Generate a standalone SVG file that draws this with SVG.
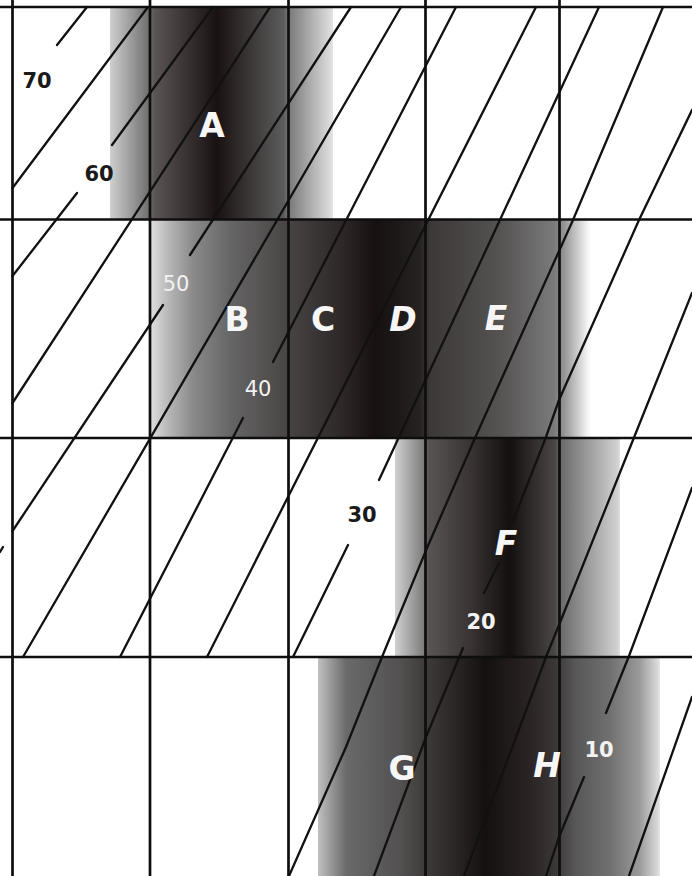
<svg xmlns="http://www.w3.org/2000/svg" width="692" height="876" viewBox="0 0 692 876">
<defs>
<linearGradient id="gA" gradientUnits="userSpaceOnUse" x1="110" y1="0" x2="333" y2="0">
<stop offset="0" stop-color="#cfcfcf"/>
<stop offset="0.18" stop-color="#6c6c6c"/>
<stop offset="0.2" stop-color="#5a5454"/>
<stop offset="0.48" stop-color="#1a1212"/>
<stop offset="0.78" stop-color="#5c5c5c"/>
<stop offset="0.8" stop-color="#787878"/>
<stop offset="0.98" stop-color="#d8d8d8"/>
<stop offset="1" stop-color="#e4e4e4"/>
</linearGradient>
<linearGradient id="gB" gradientUnits="userSpaceOnUse" x1="150" y1="0" x2="592" y2="0">
<stop offset="0" stop-color="#e0e0e0"/>
<stop offset="0.045" stop-color="#b4b4b4"/>
<stop offset="0.10" stop-color="#888888"/>
<stop offset="0.18" stop-color="#666666"/>
<stop offset="0.305" stop-color="#4a4646"/>
<stop offset="0.44" stop-color="#2c2626"/>
<stop offset="0.51" stop-color="#161010"/>
<stop offset="0.61" stop-color="#262222"/>
<stop offset="0.633" stop-color="#3c3838"/>
<stop offset="0.79" stop-color="#555252"/>
<stop offset="0.914" stop-color="#7a7a7a"/>
<stop offset="0.937" stop-color="#959595"/>
<stop offset="0.99" stop-color="#f4f4f4"/>
<stop offset="1" stop-color="#ffffff"/>
</linearGradient>
<linearGradient id="gF" gradientUnits="userSpaceOnUse" x1="395" y1="0" x2="620" y2="0">
<stop offset="0" stop-color="#d0d0d0"/>
<stop offset="0.13" stop-color="#7c7c7c"/>
<stop offset="0.147" stop-color="#5a5555"/>
<stop offset="0.33" stop-color="#3a3434"/>
<stop offset="0.51" stop-color="#141010"/>
<stop offset="0.71" stop-color="#4a4646"/>
<stop offset="0.74" stop-color="#6c6c6c"/>
<stop offset="0.987" stop-color="#d0d0d0"/>
<stop offset="1" stop-color="#e0e0e0"/>
</linearGradient>
<linearGradient id="gG" gradientUnits="userSpaceOnUse" x1="318" y1="0" x2="660" y2="0">
<stop offset="0" stop-color="#c0c0c0"/>
<stop offset="0.082" stop-color="#6a6a6a"/>
<stop offset="0.24" stop-color="#525050"/>
<stop offset="0.31" stop-color="#403c3c"/>
<stop offset="0.49" stop-color="#151010"/>
<stop offset="0.62" stop-color="#2a2424"/>
<stop offset="0.693" stop-color="#3a3636"/>
<stop offset="0.75" stop-color="#565656"/>
<stop offset="0.854" stop-color="#707070"/>
<stop offset="0.94" stop-color="#9a9a9a"/>
<stop offset="0.994" stop-color="#dadada"/>
<stop offset="1" stop-color="#e8e8e8"/>
</linearGradient>
</defs>
<style>
.grid{stroke:#0e0e0e;stroke-width:2.7;fill:none}
.iso{stroke:#111111;stroke-width:2.3;fill:none;stroke-linecap:round}
.num{font-family:"DejaVu Sans","Liberation Sans",sans-serif;font-size:21px;text-anchor:middle}
.dark{fill:#1a1a1a;font-weight:bold}
.lite{fill:#f2f2f2}
.b{font-weight:bold}
.let{font-family:"DejaVu Sans","Liberation Sans",sans-serif;font-size:33px;font-weight:bold;fill:#f6f6f6;text-anchor:middle}
.it{font-style:italic}
</style>
<rect x="0" y="0" width="692" height="876" fill="#ffffff"/>
<g id="bands">
<rect id="band-A" x="110" y="7" width="223" height="212.5" fill="url(#gA)"/>
<rect id="band-BCDE" x="150" y="219.5" width="442" height="218.5" fill="url(#gB)"/>
<rect id="band-F" x="395" y="438" width="225" height="219" fill="url(#gF)"/>
<rect id="band-GH" x="318" y="657" width="342" height="219" fill="url(#gG)"/>
</g>
<g id="isolines">
<path class="iso" d="M87,7 L57,45"/>
<path class="iso" d="M148,7 L12.5,188"/>
<path class="iso" d="M213,7 L112,145 M77,193 L12.5,276"/>
<path class="iso" d="M270,7 L12.5,403"/>
<path class="iso" d="M351,7 L190,255 M163,305 L12.5,531 M3,547 L0,552"/>
<path class="iso" d="M401,7 L23,657"/>
<path class="iso" d="M456,7 L273,362 M243,418 L120,657"/>
<path class="iso" d="M536,7 L207,657"/>
<path class="iso" d="M599,7 L379,480 M348,545 L293,657"/>
<path class="iso" d="M663,7 L573,220 L475,438 L427,548 L382,657 L346,747 L289,876"/>
<path class="iso" d="M692,110 L639,220 L559,400 L546,437 L513,521 M499,563 L484,593 M463,648 L426,737 L374,876"/>
<path class="iso" d="M692,293 L633,440 L559,625 L546,657 L464,876"/>
<path class="iso" d="M692,488 L629,656 L606,713 M584,777 L559,837 L546,876"/>
<path class="iso" d="M692,697 L629,876"/>
</g>
<g id="grid">
<path class="grid" d="M0,7 H692 M0,219.5 H692 M0,438 H692 M0,657 H692"/>
<path class="grid" d="M12.5,0 V876 M150,0 V876 M288.5,0 V876 M425.5,0 V876 M559.5,0 V876"/>
</g>
<g id="values">
<text class="num dark" x="37" y="88">70</text>
<text class="num dark" x="99" y="181">60</text>
<text class="num lite" x="176" y="291">50</text>
<text class="num lite" x="258" y="396">40</text>
<text class="num dark" x="362" y="522">30</text>
<text class="num lite b" x="481" y="629">20</text>
<text class="num lite b" x="599" y="757">10</text>
</g>
<g id="zones">
<text class="let" x="212" y="137">A</text>
<text class="let" x="237" y="331">B</text>
<text class="let" x="323" y="331">C</text>
<text class="let it" x="403" y="331">D</text>
<text class="let it" x="496" y="330">E</text>
<text class="let it" x="506" y="555">F</text>
<text class="let" x="402" y="780">G</text>
<text class="let it" x="547" y="777">H</text>
</g>
</svg>
